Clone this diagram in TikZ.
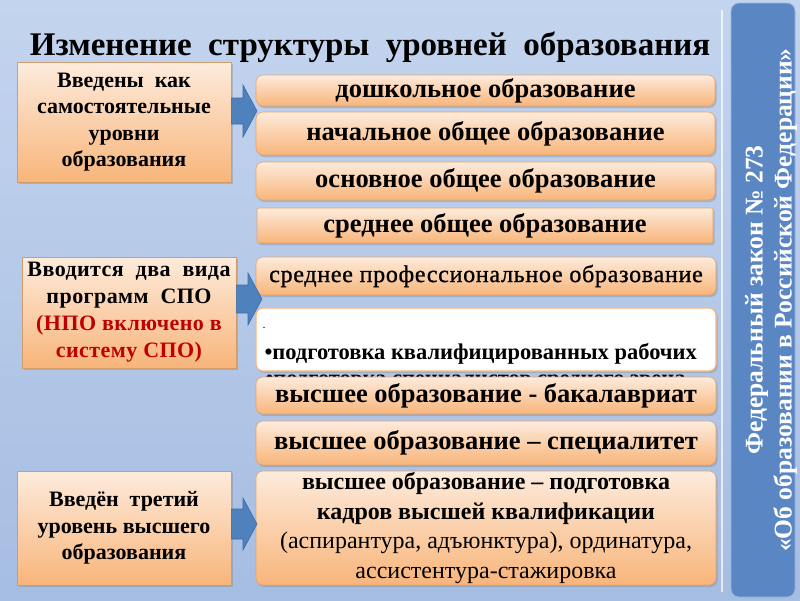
\documentclass[tikz,border=0pt]{standalone}
\usepackage{fontspec}
\setmainfont{Liberation Serif}
\usetikzlibrary{shadows,calc}
\definecolor{bgtop}{HTML}{C3D4EE}
\definecolor{bgbot}{HTML}{A6BDE2}
\definecolor{ortop}{HTML}{FDEBDC}
\definecolor{orbot}{HTML}{F8B57A}
\definecolor{orline}{HTML}{E3A468}
\definecolor{arrblue}{HTML}{4F81BD}
\definecolor{arrline}{HTML}{3C6DA8}
\definecolor{sidebl}{HTML}{5A86C3}
\definecolor{redtxt}{HTML}{C00000}
\newcommand\blockarr[5]{%
  \path[arrowfill] let \p1=(#1.east), \p2=(#2) in
    (\x1,\y2+#4) -- (\x2-#3,\y2+#4) -- (\x2-#3,\y2+#5) -- (\p2) --
    (\x2-#3,\y2-#5) -- (\x2-#3,\y2-#4) -- (\x1,\y2-#4) -- cycle;}
\tikzset{
  lbox/.style={draw=orline!80!gray, line width=0.6pt, top color=ortop, bottom color=orbot,
    minimum width=214pt, align=center, inner sep=1pt,
    drop shadow={opacity=0.35, shadow xshift=2pt, shadow yshift=-2pt},
    font=\fontsize{22}{26.5}\selectfont\bfseries},
  rbox/.style={draw=orline, line width=0.6pt, top color=ortop, bottom color=orbot,
    rounded corners=7pt, minimum width=459pt, align=center, inner xsep=1pt, inner ysep=0pt,
    drop shadow={opacity=0.35, shadow xshift=1.5pt, shadow yshift=-2pt},
    font=\fontsize{26.5}{29}\selectfont\bfseries},
  arrowfill/.style={fill=arrblue, draw=arrline, line width=0.6pt, line join=miter},
  sidetxt/.style={text=white, font=\fontsize{25.5}{29}\selectfont\bfseries, align=center, rotate=90},
}
\begin{document}
\begin{tikzpicture}[x=1pt,y=-1pt]
\useasboundingbox (0,0) rectangle (800,600);
\shade[top color=bgtop, bottom color=bgbot] (0,0) rectangle (800,600);
\draw[white, opacity=0.7, line width=1.2pt] (722,10) -- (722,592);
% sidebar
\node[fill=sidebl, draw=sidebl!60!white, line width=0.8pt, rounded corners=8pt,
  minimum width=64pt, minimum height=594pt] (side) at (763,300) {};
\node[sidetxt] (sidet) at (771,300) {Федеральный закон № 273\\«Об образовании в Российской Федерации»};
% title
\node[font=\fontsize{33}{36}\selectfont\bfseries] (title) at (370,47) {Изменение\ \ структуры\ \ уровней\ \ образования};
% left boxes
\node[lbox, minimum height=120pt] (l1) at (124,122) {Введены\ \ как\\самостоятельные\\уровни\\образования};
\node[lbox, minimum height=111pt, font=\fontsize{22}{27}\selectfont\bfseries\addfontfeature{LetterSpace=2}] (l2) at (129,312.5) {\raisebox{-3pt}{\parbox{210pt}{\centering Вводится\ \ два\ \ вида\\программ\ \ СПО\\\textcolor{redtxt}{(НПО включено в}\\\textcolor{redtxt}{систему СПО)}}}};
\node[lbox, minimum height=114pt] (l3) at (124,528) {Введён\ \ третий\\уровень высшего\\образования};
% right boxes
\node[rbox, minimum height=31pt] (r1) at (485.5,90.5) {дошкольное образование};
\node[rbox, minimum height=43pt] (r2) at (485.5,133.5) {начальное общее образование};
\node[rbox, minimum height=38pt] (r3) at (485.5,181) {основное общее образование};
\node[rbox, rounded corners=2pt, minimum width=456pt, minimum height=35pt] (r4) at (485,225.5) {среднее общее образование};
\node[rbox, minimum width=460pt, minimum height=38pt, font=\fontsize{24}{26}\selectfont\addfontfeature{LetterSpace=3,FakeBold=1}] (r5) at (486,276) {среднее профессиональное образование};
\node[font=\fontsize{22.5}{26}\selectfont\bfseries, anchor=base west] (hid) at (262,385) {•подготовка специалистов среднего звена};
\node[rbox, fill=white, top color=white, bottom color=white, draw=orbot, line width=1.2pt,
  minimum width=460pt, minimum height=63pt] (r6) at (486,339.5) {};
\node[font=\fontsize{12}{12}\selectfont, anchor=base west] (dot) at (259,328) {.};
\node[font=\fontsize{22.5}{26}\selectfont\bfseries, anchor=base west] (r6t) at (261,359) {•подготовка квалифицированных рабочих};
\node[rbox, minimum width=460pt, minimum height=37pt] (r7) at (486,395.5) {высшее образование - бакалавриат};
\node[rbox, minimum width=460pt, minimum height=44pt] (r8) at (486,443) {высшее образование – специалитет};
\node[rbox, minimum width=460pt, minimum height=114pt, font=\fontsize{24}{29.5}\selectfont] (r9) at (486,528)
  {\raisebox{-3pt}{\parbox{456pt}{\centering\textbf{высшее образование – подготовка}\\\textbf{кадров высшей квалификации}\\(аспирантура, адъюнктура), ординатура,\\ассистентура-стажировка}}};
% arrows
\coordinate (t1) at (257,111);
\coordinate (t2) at (262,299);
\coordinate (t3) at (257,524);
\blockarr{l1}{t1}{14pt}{13pt}{26pt}
\blockarr{l2}{t2}{14pt}{14pt}{26pt}
\blockarr{l3}{t3}{14pt}{15pt}{26pt}
\end{tikzpicture}
\end{document}
